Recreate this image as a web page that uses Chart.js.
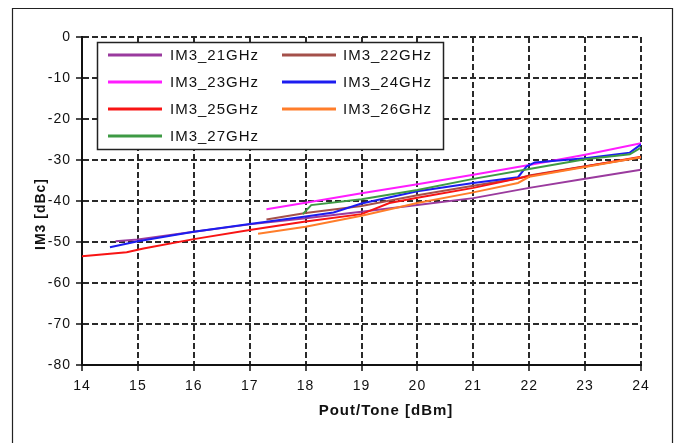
<!DOCTYPE html>
<html>
<head>
<meta charset="utf-8">
<script src="https://cdn.jsdelivr.net/npm/chart.js@4"></script>
<style>
  html, body { margin: 0; padding: 0; background: #fff; }
  #wrap { position: relative; width: 679px; height: 443px; }
</style>
</head>
<body>
<div id="wrap"><canvas id="im3" width="679" height="443"></canvas></div>
<script>
// IM3 vs Pout/Tone, one pair of arrays per frequency
const xTicks = [14, 15, 16, 17, 18, 19, 20, 21, 22, 23, 24];
const yTicks = [0, -10, -20, -30, -40, -50, -60, -70, -80];

const pout21 = [14.6, 15, 16, 17, 18, 19, 20, 21, 22, 23, 24];
const im3_21 = [-49.8, -49.4, -47.5, -45.7, -44.2, -42.6, -41, -39.3, -36.8, -34.6, -32.4];

const pout22 = [17.3, 18, 18.5, 19, 20, 21, 21.8, 22, 23, 24];
const im3_22 = [-44.5, -42.9, -42.1, -41.2, -38.6, -36.3, -34.5, -33.8, -31.5, -29.4];

const pout23 = [17.3, 18, 19, 20, 21, 22, 23, 24];
const im3_23 = [-42, -40.4, -38.1, -35.9, -33.6, -31.2, -28.7, -25.9];

const pout24 = [14.5, 15, 16, 17, 18, 18.5, 19, 20, 21, 21.8, 21.95, 22.1, 23, 23.8, 24];
const im3_24 = [-51.3, -49.8, -47.5, -45.6, -43.8, -42.8, -40.6, -37.6, -35.6, -34.2, -31.6, -30.6, -29.6, -28.2, -26.2];

const pout25 = [14, 14.8, 15.1, 16, 17, 18, 19, 19.5, 20, 21, 22, 23, 24];
const im3_25 = [-53.5, -52.5, -51.6, -49.3, -47.1, -45, -43.2, -40.5, -39.2, -36.8, -33.9, -31.6, -29.2];

const pout26 = [17.15, 18, 19, 20, 21, 21.8, 22, 23, 24];
const im3_26 = [-48, -46.3, -43.6, -40.5, -37.9, -35.6, -34.1, -31.7, -29.3];

const pout27 = [17.95, 18.1, 19, 20, 21, 22, 23, 23.8, 24];
const im3_27 = [-43.2, -41, -39.6, -37.3, -34.6, -32.2, -29.8, -28.6, -27];

const seriesNames = ['IM3_21GHz', 'IM3_22GHz', 'IM3_23GHz', 'IM3_24GHz', 'IM3_25GHz', 'IM3_26GHz', 'IM3_27GHz'];
const seriesColors = ['#9a3a9e', '#a4504a', '#ff1cff', '#1c1cf0', '#f81414', '#ff7d2a', '#3e9a44'];
const xs = [pout21, pout22, pout23, pout24, pout25, pout26, pout27];
const ys = [im3_21, im3_22, im3_23, im3_24, im3_25, im3_26, im3_27];

const FONT = "'Liberation Sans', Arial, sans-serif";

// build datasets from the arrays above (later series drawn on top)
const datasets = seriesNames.map((name, i) => ({
  label: name,
  data: xs[i].map((x, k) => ({ x: x, y: ys[i][k] })),
  borderColor: seriesColors[i],
  backgroundColor: seriesColors[i],
  borderWidth: 2,
  pointRadius: 0,
  tension: 0,
  fill: false,
  order: seriesNames.length - i
}));

// outer frame, legend box and axis titles
const frameAndLegend = {
  id: 'frameAndLegend',
  beforeDraw(chart) {
    const ctx = chart.ctx;
    ctx.letterSpacing = '1px';
    ctx.save();
    ctx.fillStyle = '#fff';
    ctx.fillRect(0, 0, chart.width, chart.height);
    ctx.strokeStyle = '#222';
    ctx.lineWidth = 1.2;
    ctx.beginPath();
    ctx.moveTo(12.5, 445);
    ctx.lineTo(12.5, 8.5);
    ctx.lineTo(672.5, 8.5);
    ctx.lineTo(672.5, 445);
    ctx.stroke();
    ctx.restore();
  },
  afterDraw(chart) {
    const ctx = chart.ctx;
    ctx.save();
    // legend box
    ctx.fillStyle = '#fff';
    ctx.fillRect(97, 42, 347, 108);
    ctx.strokeStyle = '#222';
    ctx.lineWidth = 1.5;
    ctx.strokeRect(97.5, 42.5, 346, 107);
    ctx.font = '15px ' + FONT;
    ctx.textBaseline = 'middle';
    ctx.fillStyle = '#111';
    chart.data.datasets.forEach((ds, i) => {
      const col = i % 2, row = Math.floor(i / 2);
      const lx = col === 0 ? 108 : 282;
      const tx = col === 0 ? 170 : 343;
      const y = 55 + row * 27;
      ctx.strokeStyle = ds.borderColor;
      ctx.lineWidth = 3;
      ctx.beginPath();
      ctx.moveTo(lx, y);
      ctx.lineTo(lx + 54, y);
      ctx.stroke();
      ctx.fillText(ds.label, tx, y + 1);
    });
    // x axis title
    ctx.textAlign = 'center';
    ctx.font = 'bold 15px ' + FONT;
    ctx.fillText('Pout/Tone [dBm]', 386, 411);
    // y axis title
    ctx.translate(41, 214);
    ctx.rotate(-Math.PI / 2);
    ctx.font = 'bold 14px ' + FONT;
    ctx.fillText('IM3 [dBc]', 0, 0);
    ctx.restore();
  }
};

const ctx = document.getElementById('im3').getContext('2d');
new Chart(ctx, {
  type: 'line',
  data: { datasets: datasets },
  options: {
    responsive: false,
    animation: false,
    devicePixelRatio: 1,
    layout: { padding: { left: 0, right: 38, top: 37, bottom: 0 } },
    plugins: { legend: { display: false }, tooltip: { enabled: false } },
    scales: {
      x: {
        type: 'linear',
        min: 14, max: 24,
        afterBuildTicks: s => { s.ticks = xTicks.map(v => ({ value: v })); },
        afterFit: s => { s.height = 78; },
        ticks: { color: '#111', font: { family: FONT, size: 14 }, padding: 7, maxRotation: 0 },
        grid: { color: '#2a2a2a', lineWidth: 2, tickLength: 6, tickColor: '#111', tickWidth: 1.5 },
        border: { display: true, color: '#111', width: 2, dash: [6, 3] }
      },
      y: {
        type: 'linear',
        min: -80, max: 0,
        afterBuildTicks: s => { s.ticks = yTicks.map(v => ({ value: v })); },
        afterFit: s => { s.width = 82; },
        ticks: { color: '#111', font: { family: FONT, size: 14 }, padding: 5 },
        grid: { color: '#2a2a2a', lineWidth: 2, tickLength: 6, tickColor: '#111', tickWidth: 1.5 },
        border: { display: true, color: '#111', width: 2, dash: [6, 3] }
      }
    }
  },
  plugins: [frameAndLegend]
});
</script>
</body>
</html>
